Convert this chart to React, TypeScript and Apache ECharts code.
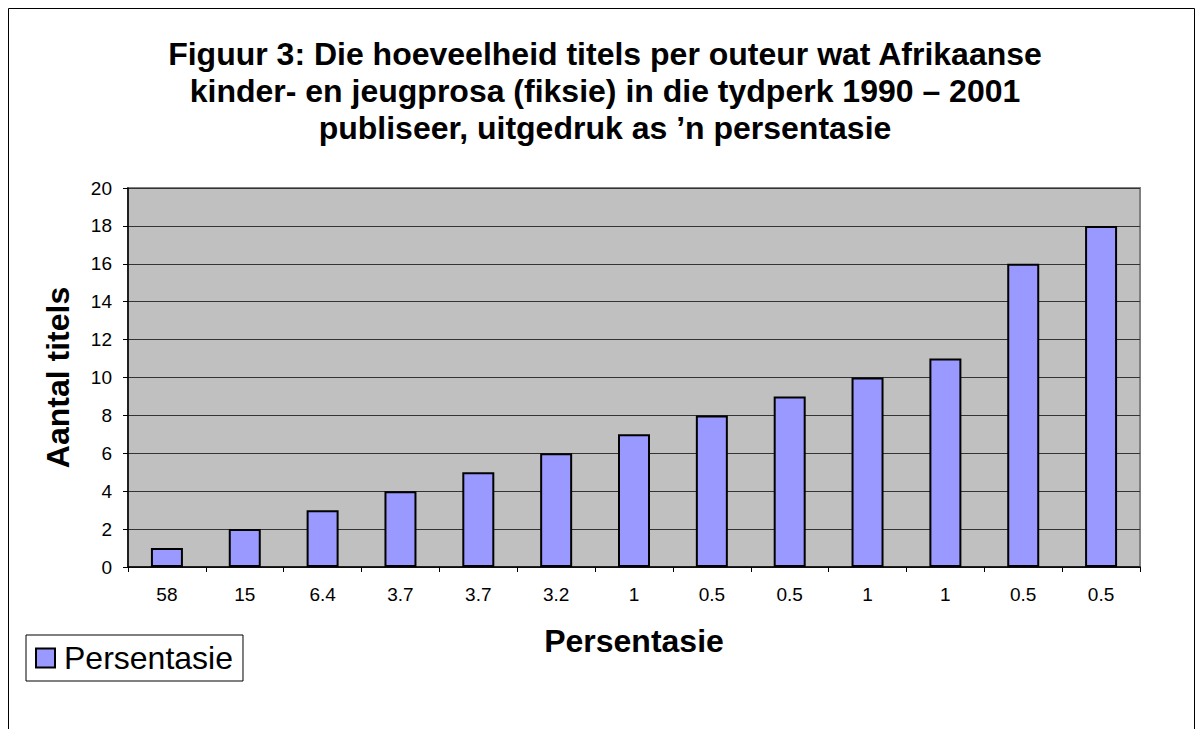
import React, { useEffect, useRef } from "react";
import * as echarts from "echarts";

const categories = ["58", "15", "6.4", "3.7", "3.7", "3.2", "1", "0.5", "0.5", "1", "1", "0.5", "0.5"];
const values = [1, 2, 3, 4, 5, 6, 7, 8, 9, 10, 11, 16, 18];
const titleText =
  "Figuur 3: Die hoeveelheid titels per outeur wat Afrikaanse\nkinder- en jeugprosa (fiksie) in die tydperk 1990 – 2001\npubliseer, uitgedruk as ’n persentasie";
const FONT = "'Liberation Sans', Arial, sans-serif";

export default function App() {
  const ref = useRef<HTMLDivElement>(null);
  useEffect(() => {
    const chart = echarts.init(ref.current!, null, { renderer: "svg" });
    chart.setOption({
      animation: false,
      backgroundColor: "#fff",
      textStyle: { fontFamily: FONT },
      graphic: [
        {
          type: "rect",
          shape: { x: 8.5, y: 8.5, width: 1186, height: 740 },
          style: { fill: "none", stroke: "#000", lineWidth: 1 },
          z: 0,
        },
      ],
      title: {
        text: titleText,
        left: 600,
        textAlign: "center",
        top: 30,
        textStyle: {
          fontSize: 32,
          fontWeight: "bold",
          color: "#000",
          lineHeight: 37,
          fontFamily: FONT,
        },
      },
      legend: {
        left: 26,
        top: 635,
        orient: "horizontal",
        itemWidth: 19,
        itemHeight: 19,
        itemGap: 2,
        padding: [7, 10, 7, 9],
        borderColor: "#000",
        borderWidth: 1,
        icon: "rect",
        data: [
          {
            name: "Persentasie",
            itemStyle: { color: "#9999FF", borderColor: "#000", borderWidth: 2 },
          },
        ],
        textStyle: { fontSize: 32, color: "#000", fontFamily: FONT, padding: [0, 0, 0, 4] },
      },
      grid: {
        left: 128,
        top: 188,
        right: 56,
        bottom: 162,
        show: true,
        backgroundColor: "#C0C0C0",
        borderColor: "#808080",
        borderWidth: 2,
      },
      xAxis: {
        type: "category",
        data: categories,
        boundaryGap: true,
        name: "Persentasie",
        nameLocation: "middle",
        nameGap: 58,
        nameTextStyle: { fontSize: 32, fontWeight: "bold", color: "#000", fontFamily: FONT },
        axisLine: { lineStyle: { color: "#000", width: 1.5 } },
        axisTick: { show: true, length: 5, lineStyle: { color: "#000" } },
        axisLabel: { fontSize: 19, color: "#000", margin: 18, fontFamily: FONT },
      },
      yAxis: {
        type: "value",
        min: 0,
        max: 20,
        interval: 2,
        name: "Aantal titels",
        nameLocation: "middle",
        nameGap: 54,
        nameTextStyle: { fontSize: 32, fontWeight: "bold", color: "#000", fontFamily: FONT },
        axisLine: { show: true, lineStyle: { color: "#000", width: 1.5 } },
        axisTick: { show: true, length: 5, lineStyle: { color: "#000" } },
        axisLabel: { fontSize: 19, color: "#000", margin: 16, fontFamily: FONT },
        splitLine: { show: true, lineStyle: { color: "#333", width: 1 } },
      },
      series: [
        {
          name: "Persentasie",
          type: "bar",
          data: values,
          barWidth: 32,
          itemStyle: { color: "#9999FF", borderColor: "#000", borderWidth: 2 },
        },
      ],
    });
    return () => chart.dispose();
  }, []);
  return (
    <div
      ref={ref}
      style={{ position: "fixed", left: 0, top: 0, width: 1196, height: 729 }}
    />
  );
}
